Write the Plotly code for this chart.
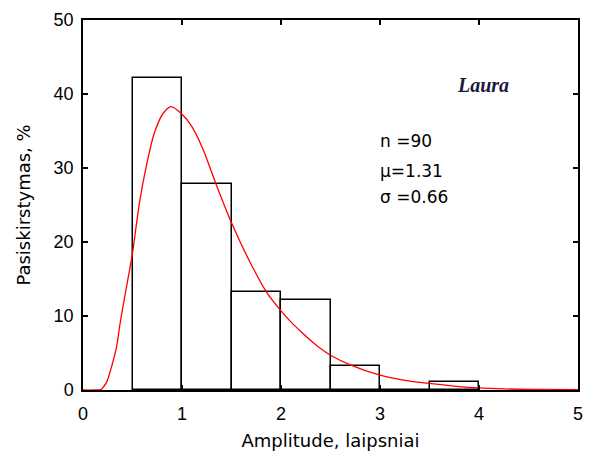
import plotly.graph_objects as go

# Histogram data (bin centers, percent)
bin_centers = [0.75, 1.25, 1.75, 2.25, 2.75, 3.25, 3.75]
bin_percent = [42.2, 27.8, 13.3, 12.2, 3.3, 0.0, 1.1]

# Fitted curve
curve_x = [0, 0.1, 0.18, 0.2, 0.24, 0.27, 0.34, 0.37, 0.4, 0.45, 0.5, 0.57, 0.64,
           0.72, 0.81, 0.89, 0.99, 1.1, 1.21, 1.35, 1.5, 1.69, 1.86, 2.0, 2.1, 2.2,
           2.3, 2.4, 2.5, 2.7, 3.0, 3.3, 3.6, 3.8, 4.25, 4.6, 5.0]
curve_y = [0, 0, 0.05, 0.3, 1.1, 2.3, 5.9, 8.6, 11.0, 14.7, 18.5, 25.3, 30.3,
           34.7, 37.4, 38.3, 37.4, 35.6, 32.6, 27.6, 22.6, 17.2, 13.1, 10.7, 9.2, 7.9,
           6.7, 5.6, 4.7, 3.4, 2.0, 1.2, 0.75, 0.45, 0.15, 0.08, 0.05]

stats_lines = ["n =90", "μ=1.31", "σ =0.66"]
stats_y = [33.6, 29.6, 26.1]

fig = go.Figure()
fig.add_trace(go.Bar(x=bin_centers, y=bin_percent, width=0.5,
                     marker=dict(color="white", line=dict(color="black", width=1.5)),
                     showlegend=False))
fig.add_trace(go.Scatter(x=curve_x, y=curve_y, mode="lines",
                         line=dict(color="red", width=1.3, shape="spline", smoothing=0.8),
                         showlegend=False))

fig.add_annotation(x=4.04, y=41.2, text="<b><i>Laura</i></b>", showarrow=False,
                   font=dict(family="Liberation Serif", size=20, color="#1a1a40"))
for t, yy in zip(stats_lines, stats_y):
    fig.add_annotation(x=2.98, y=yy, text=t, showarrow=False, xanchor="left",
                       font=dict(family="DejaVu Sans", size=17, color="black"))

axis_common = dict(showline=True, linecolor="black", linewidth=1.5, mirror="ticks",
                   ticks="inside", ticklen=5, tickcolor="black", tickwidth=1.5,
                   showgrid=False, zeroline=False, automargin=False,
                   tickfont=dict(family="Liberation Sans", size=18, color="black"))

fig.update_xaxes(range=[0, 5], dtick=1, ticklabelstandoff=7, **axis_common,
                 title=dict(text="Amplitude, laipsniai", standoff=11,
                            font=dict(family="DejaVu Sans", size=18, color="black")))
fig.update_yaxes(range=[0, 50], dtick=10, ticklabelstandoff=4, **axis_common,
                 title=dict(text="Pasiskirstymas, %", standoff=18,
                            font=dict(family="DejaVu Sans", size=18, color="black")))

fig.update_layout(width=593, height=458, margin=dict(l=83, r=15, t=20, b=68),
                  plot_bgcolor="white", paper_bgcolor="white", bargap=0)

fig.write_html("out.html")
